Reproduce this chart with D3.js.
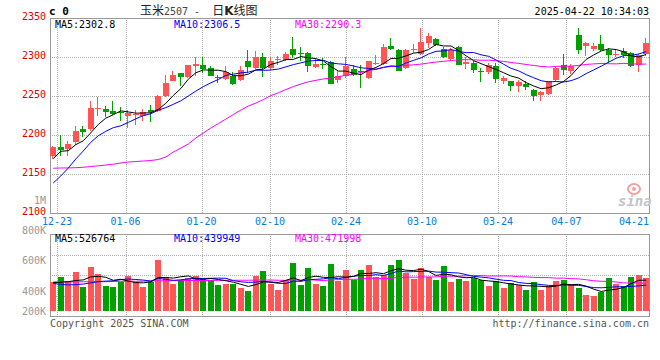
<!DOCTYPE html>
<html><head><meta charset="utf-8">
<script src="https://cdn.jsdelivr.net/npm/d3@7"></script>
<style>
html,body{margin:0;padding:0;background:#fff;}
svg{display:block;}
text{font-family:"DejaVu Sans Mono",monospace;}
</style></head><body>
<svg id="chart" width="660" height="360"></svg>
<script>
const dates = ["12-20","12-23","12-24","12-25","12-26","12-27","12-30","12-31",
"01-02","01-03","01-06","01-07","01-08","01-09","01-10","01-13","01-14","01-15","01-16","01-17","01-20","01-21","01-22","01-23","01-24","01-27",
"02-05","02-06","02-07","02-10","02-11","02-12","02-13","02-14","02-17","02-18","02-19","02-20","02-21","02-24","02-25","02-26","02-27","02-28",
"03-03","03-04","03-05","03-06","03-07","03-10","03-11","03-12","03-13","03-14","03-17","03-18","03-19","03-20","03-21","03-24","03-25","03-26","03-27","03-28","03-31",
"04-01","04-02","04-03","04-07","04-08","04-09","04-10","04-11","04-14","04-15","04-16","04-17","04-18","04-21","04-22"];

const open = [2172.6,2185.0,2181.6,2190.6,2207.3,2207.3,2233.7,2233.7,2231.2,2229.9,
2223.9,2226.1,2224.8,2232.0,2230.3,2250.0,2269.7,2280.0,2274.0,2288.0,
2290.2,2285.9,2274.4,2271.8,2276.0,2270.0,2295.3,2285.9,2300.4,2285.9,
2296.6,2295.7,2309.8,2305.1,2305.1,2287.2,2291.5,2293.2,2270.1,2275.2,
2285.0,2282.5,2273.1,2291.5,2291.0,2314.5,2309.4,2285.9,2309.0,2303.8,
2318.4,2323.5,2310.7,2297.9,2312.8,2291.0,2292.3,2282.5,2280.4,2288.9,
2268.8,2268.8,2262.4,2265.4,2258.1,2250.8,2253.0,2270.1,2290.2,2282.5,
2328.6,2314.1,2309.8,2317.1,2309.0,2302.1,2307.3,2305.1,2290.2,2303.8];

const high = [2186.3,2200.4,2192.7,2211.1,2212.0,2244.0,2248.3,2236.7,2244.0,2235.9,
2232.5,2232.5,2233.8,2238.0,2251.0,2277.3,2281.6,2280.0,2290.2,2299.6,
2299.6,2288.0,2277.3,2288.9,2280.3,2288.0,2309.4,2307.3,2305.0,2299.6,
2300.9,2306.4,2326.0,2312.8,2306.0,2297.9,2298.7,2294.4,2281.6,2299.6,
2289.3,2290.2,2295.3,2303.0,2316.7,2324.4,2310.2,2310.2,2316.7,2337.2,
2330.8,2324.4,2312.4,2311.5,2313.7,2299.6,2294.4,2285.9,2292.3,2292.3,
2276.1,2269.7,2270.9,2268.8,2259.4,2256.8,2269.7,2286.8,2303.8,2291.5,
2337.2,2319.2,2317.9,2327.8,2311.5,2310.7,2311.5,2306.4,2303.8,2324.4];

const low = [2169.6,2172.6,2172.6,2187.6,2197.0,2205.5,2224.0,2222.6,2226.0,2218.4,
2209.0,2213.0,2217.5,2216.2,2229.0,2248.3,2268.8,2262.4,2273.1,2275.2,
2279.5,2275.2,2266.7,2270.9,2264.5,2269.2,2279.5,2285.0,2273.9,2283.8,
2290.2,2294.4,2298.7,2294.4,2280.8,2285.9,2285.0,2265.0,2266.7,2273.1,
2275.2,2260.3,2271.8,2290.2,2289.3,2308.5,2281.6,2285.0,2305.1,2303.0,
2311.5,2313.7,2298.7,2296.6,2289.3,2285.0,2279.5,2267.5,2278.2,2266.7,
2265.8,2256.0,2254.7,2258.1,2243.2,2244.0,2251.7,2267.5,2277.4,2278.2,
2304.3,2300.8,2308.1,2308.1,2292.3,2299.6,2298.7,2286.8,2280.4,2300.8];

const close = [2184.2,2181.2,2188.4,2205.5,2203.8,2235.0,2234.8,2229.0,2227.3,2228.6,
2228.2,2226.9,2229.9,2229.0,2250.4,2267.0,2277.3,2274.0,2289.3,2291.5,
2285.0,2276.0,2273.1,2280.8,2265.8,2283.8,2286.8,2300.4,2285.9,2295.3,
2297.4,2304.3,2302.1,2303.4,2288.0,2291.5,2289.3,2265.8,2275.2,2288.0,
2277.4,2280.8,2294.4,2292.3,2313.2,2309.8,2282.5,2309.4,2309.8,2319.2,
2326.9,2315.0,2300.0,2309.4,2290.2,2293.2,2283.8,2280.8,2290.2,2271.8,
2272.6,2262.4,2268.0,2261.1,2250.4,2254.7,2268.8,2285.9,2283.8,2288.9,
2308.5,2317.5,2314.5,2309.4,2302.1,2304.3,2303.0,2288.0,2303.0,2318.4];

const volume = [494000,580000,506000,665000,409000,750000,625000,426000,409000,494000,
597000,494000,409000,494000,869000,580000,455000,523000,568000,597000,
563000,523000,438000,460000,466000,392000,341000,597000,682000,460000,
352000,523000,813000,438000,733000,460000,426000,796000,511000,693000,
523000,693000,779000,580000,608000,779000,864000,648000,551000,727000,
580000,523000,762000,494000,551000,506000,563000,523000,421000,506000,
386000,472000,438000,352000,489000,352000,426000,506000,523000,438000,
386000,267000,250000,324000,557000,455000,421000,580000,608000,563000];

// moving-average values for days whose window starts before the shown range
const ma5Head = [2169.7,2179.1,2179.9,2187.6];
const ma10Head = [2138.5,2147.4,2157.7,2169.2,2179.5,2190.6,2199.1,2204.7,2209.4];
const ma30Head = [2157.4,2157.7,2157.8,2158.1,2158.6,2159.6,2160.5,2161.5,2162.6,2164.1,
2165.4,2166.0,2166.7,2167.3,2168.6,2171.8,2178.2,2183.3,2188.5,2196.2,
2202.6,2209.0,2214.7,2220.5,2226.3,2232.0,2237.2,2241.0,2245.5];
const volMa5Head = [485000,490000,500000,520000];
const volMa10Head = [470000,455000,445000,450000,460000,480000,500000,510000,515000];
const volMa30Head = [497000,496000,498000,497000,499000,500000,502000,501000,504000,506000,
507000,506000,509000,511000,515000,516000,518000,517000,520000,521000,
520000,522000,523000,522000,524000,525000,524000,527000,528000];

const priceTicks = [2350,2300,2250,2200,2150,2100];
const volTickLabels = ["800K","600K","400K","200K"];
const dateTicks = ["12-23","01-06","01-20","02-10","02-24","03-10","03-24","04-07","04-21"];
const priceMaText = ["MA5:2302.8","MA10:2306.5","MA30:2290.3"];
const volMaText = ["MA5:526764","MA10:439949","MA30:471998"];
const maColors = ["#000000","#0000ff","#ff00ff"];

const RED = "#ff5555", GREEN = "#00a000";
const svg = d3.select("#chart");
const L = 50, R = 649;
const pTop = 18, pBot = 213;
const vTop = 234, vBot = 316, vBase = 311;

const x = d3.scaleBand().domain(dates).range([49.5, 650]).paddingInner(0.2).paddingOuter(0.1);
const xg = d3.scaleLinear().domain([0, dates.length - 1]).range([49.5, 650]);
const y = d3.scaleLinear().domain([2100, 2350]).range([pBot, pTop]);
const vy = d3.scaleLinear().domain([0, 1300000]).range([vBase, vBase - 76.2]);
const cx = d => Math.round(x(d));

function movingAvg(vals, n, head) {
  return vals.map((v, i) => i >= n - 1 ? d3.mean(vals.slice(i - n + 1, i + 1)) : head[i]);
}

// grids
const gridC = "#b0b0b0";
const gridG = svg.append("g").attr("stroke", gridC).attr("stroke-dasharray", "1,1").attr("shape-rendering", "crispEdges");
priceTicks.slice(1, -1).forEach(t => {
  const yy = Math.round(y(t)) + 0.5;
  gridG.append("line").attr("x1", L).attr("x2", R).attr("y1", yy).attr("y2", yy);
});
const volGridRows = d3.range(1, 4).map(k => vTop + (vBot - vTop) * k / 4);
volGridRows.forEach(r => {
  const yy = Math.round(r) + 0.5;
  gridG.append("line").attr("x1", L).attr("x2", R).attr("y1", yy).attr("y2", yy);
});
dateTicks.slice(0, -1).forEach(d => {
  const xx = Math.round(xg(dates.indexOf(d))) + 0.5;
  gridG.append("line").attr("x1", xx).attr("x2", xx).attr("y1", pTop).attr("y2", pBot);
  gridG.append("line").attr("x1", xx).attr("x2", xx).attr("y1", vTop).attr("y2", vBot);
});

// frames
const frame = svg.append("g").attr("fill", "none").attr("stroke", "#999").attr("shape-rendering", "crispEdges");
frame.append("rect").attr("x", L + 0.5).attr("y", pTop + 0.5).attr("width", R - L).attr("height", pBot - pTop);
frame.append("rect").attr("x", L + 0.5).attr("y", vTop + 0.5).attr("width", R - L).attr("height", vBot - vTop);

// watermark
const wm = svg.append("g");
wm.append("ellipse").attr("cx", 634).attr("cy", 189).attr("rx", 6).attr("ry", 5).attr("fill", "none").attr("stroke", "#f2a0a0").attr("stroke-width", 2);
wm.append("circle").attr("cx", 634).attr("cy", 189).attr("r", 2).attr("fill", "#f2a0a0");
wm.append("text").attr("x", 618).attr("y", 206).attr("font-family", "DejaVu Sans").attr("font-style", "italic")
  .attr("font-weight", "bold").attr("font-size", 14).attr("fill", "#c4c4c4").text("sina");

// candles
const plot = svg.append("g").attr("shape-rendering", "crispEdges");
dates.forEach((d, i) => {
  const up = close[i] >= open[i];
  const col = up ? RED : GREEN;
  const bx = cx(d);
  plot.append("line").attr("x1", bx + 2.5).attr("x2", bx + 2.5)
    .attr("y1", y(high[i])).attr("y2", y(low[i])).attr("stroke", col);
  const top = y(Math.max(open[i], close[i])), bot = y(Math.min(open[i], close[i]));
  plot.append("rect").attr("x", bx).attr("y", top).attr("width", x.bandwidth())
    .attr("height", Math.max(1, bot - top)).attr("fill", col);
  // volume
  plot.append("rect").attr("x", bx).attr("y", vy(volume[i])).attr("width", x.bandwidth())
    .attr("height", vBase - vy(volume[i])).attr("fill", col);
});

// MA lines
const cxc = d => x(d) + x.bandwidth() / 2;
const priceMAs = [movingAvg(close, 5, ma5Head), movingAvg(close, 10, ma10Head), movingAvg(close, 30, ma30Head)];
const volMAs = [movingAvg(volume, 5, volMa5Head), movingAvg(volume, 10, volMa10Head), movingAvg(volume, 30, volMa30Head)];
const lineG = svg.append("g").attr("fill", "none").attr("stroke-width", 1);
[2, 1, 0].forEach(k => {
  lineG.append("path").attr("stroke", maColors[k])
    .attr("d", d3.line().x((v, i) => cxc(dates[i])).y(v => y(v))(priceMAs[k]));
  lineG.append("path").attr("stroke", maColors[k])
    .attr("d", d3.line().x((v, i) => cxc(dates[i])).y(v => vy(v))(volMAs[k]));
});

// axis labels
const tx = svg.append("g").attr("font-size", 10);
priceTicks.forEach(t => {
  tx.append("text").attr("x", 46).attr("y", Math.round(y(t)) + 2).attr("text-anchor", "end").attr("fill", "#e00000").text(t);
});
// volume-axis labels: upper three evenly spaced, last one sits on the bar baseline
const volLabelY = d3.scalePoint().domain(volTickLabels.slice(0, 3)).range([233.5, 294.5]);
volTickLabels.forEach((t, k) => {
  const yy = k < 3 ? volLabelY(t) : vBase + 3.5;
  tx.append("text").attr("x", 46).attr("y", yy).attr("text-anchor", "end").attr("fill", "#999").text(t);
});
tx.append("text").attr("x", 46).attr("y", 204).attr("text-anchor", "end").attr("fill", "#999").text("1M");
dateTicks.forEach(d => {
  const xx = xg(dates.indexOf(d));
  const w = d.length * 6.02;
  const over = xx + w / 2 > R;
  tx.append("text").attr("x", over ? R : xx).attr("y", 225).attr("text-anchor", over ? "end" : "middle")
    .attr("fill", "#0a7ad6").text(d);
});
const maX = [55, 174, 295];
priceMaText.forEach((t, k) => tx.append("text").attr("x", maX[k]).attr("y", 28).attr("fill", maColors[k]).text(t));
volMaText.forEach((t, k) => tx.append("text").attr("x", maX[k]).attr("y", 242).attr("fill", maColors[k]).text(t));

// header
svg.append("text").attr("x", 49).attr("y", 15).attr("font-size", 11).attr("font-weight", "bold").attr("fill", "#000").text("c 0");
const title = svg.append("text").attr("x", 140).attr("y", 15).attr("fill", "#222");
title.append("tspan").attr("font-family", "Noto Sans CJK SC").attr("font-size", 12).text("玉米");
title.append("tspan").attr("font-size", 10).attr("fill", "#444").text("2507 - ");
title.append("tspan").attr("dx", 6).attr("font-family", "Noto Sans CJK SC").attr("font-size", 12).text("日");
title.append("tspan").attr("font-family", "DejaVu Sans").attr("font-weight", "bold").attr("font-size", 12).text("K");
title.append("tspan").attr("font-family", "Noto Sans CJK SC").attr("font-size", 12).text("线图");
svg.append("text").attr("x", 649).attr("y", 15).attr("text-anchor", "end").attr("font-size", 10).attr("fill", "#000").text("2025-04-22 10:34:03");
svg.append("text").attr("x", 50).attr("y", 327).attr("font-size", 10).attr("fill", "#555").text("Copyright 2025 SINA.COM");
svg.append("text").attr("x", 649).attr("y", 327).attr("text-anchor", "end").attr("font-size", 10).attr("fill", "#555").text("http://finance.sina.com.cn");
</script>
</body></html>
